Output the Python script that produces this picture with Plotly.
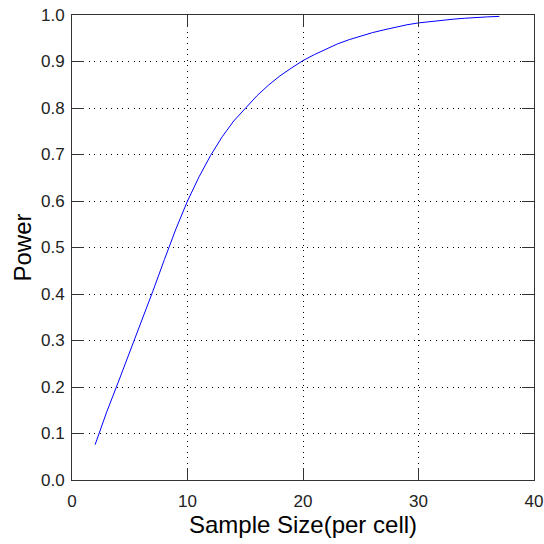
import plotly.graph_objects as go

sample_size = list(range(2, 38))
power = [0.076, 0.146, 0.21, 0.274, 0.34, 0.406, 0.474, 0.54, 0.60, 0.652,
         0.698, 0.738, 0.772, 0.80, 0.826, 0.849, 0.869, 0.886, 0.902, 0.915,
         0.927, 0.938, 0.947, 0.955, 0.962, 0.968, 0.974, 0.979, 0.983, 0.986,
         0.989, 0.991, 0.993, 0.995, 0.996, 0.997]

x_ticks = [0, 10, 20, 30, 40]
y_ticks = [0.0, 0.1, 0.2, 0.3, 0.4, 0.5, 0.6, 0.7, 0.8, 0.9, 1.0]

fig = go.Figure()
fig.add_trace(go.Scatter(x=sample_size, y=power, mode="lines",
                         line=dict(color="#0000ff", width=1), showlegend=False))

axis_common = dict(
    showline=True, linecolor="#333333", linewidth=1, mirror="ticks",
    ticks="inside", ticklen=12, tickcolor="#333333", tickwidth=1,
    showgrid=True, gridcolor="#000000", gridwidth=1, griddash="1px,4.6px",
    zeroline=False, ticklabeloverflow="allow", automargin=False,
    tickfont=dict(family="Liberation Sans, Arial, sans-serif", size=17, color="#222222"),
)

title_font = dict(family="Liberation Sans, Arial, sans-serif", size=24, color="#000000")

fig.update_layout(
    width=544, height=544,
    margin=dict(l=72, r=10, t=15, b=64, autoexpand=False),
    paper_bgcolor="white", plot_bgcolor="white",
    xaxis=dict(range=[-0.0005, 40.0005], tickvals=x_ticks, ticktext=[str(v) for v in x_ticks],
               ticklabelstandoff=6,
               title=dict(text="Sample Size(per cell)", standoff=0, font=title_font),
               **axis_common),
    yaxis=dict(range=[-0.00001, 1.00001], tickvals=y_ticks, ticktext=[f"{v:.1f}" for v in y_ticks],
               ticklabelstandoff=3,
               title=dict(text="Power", standoff=2, font=title_font),
               **axis_common),
)

fig.write_html("out.html")
